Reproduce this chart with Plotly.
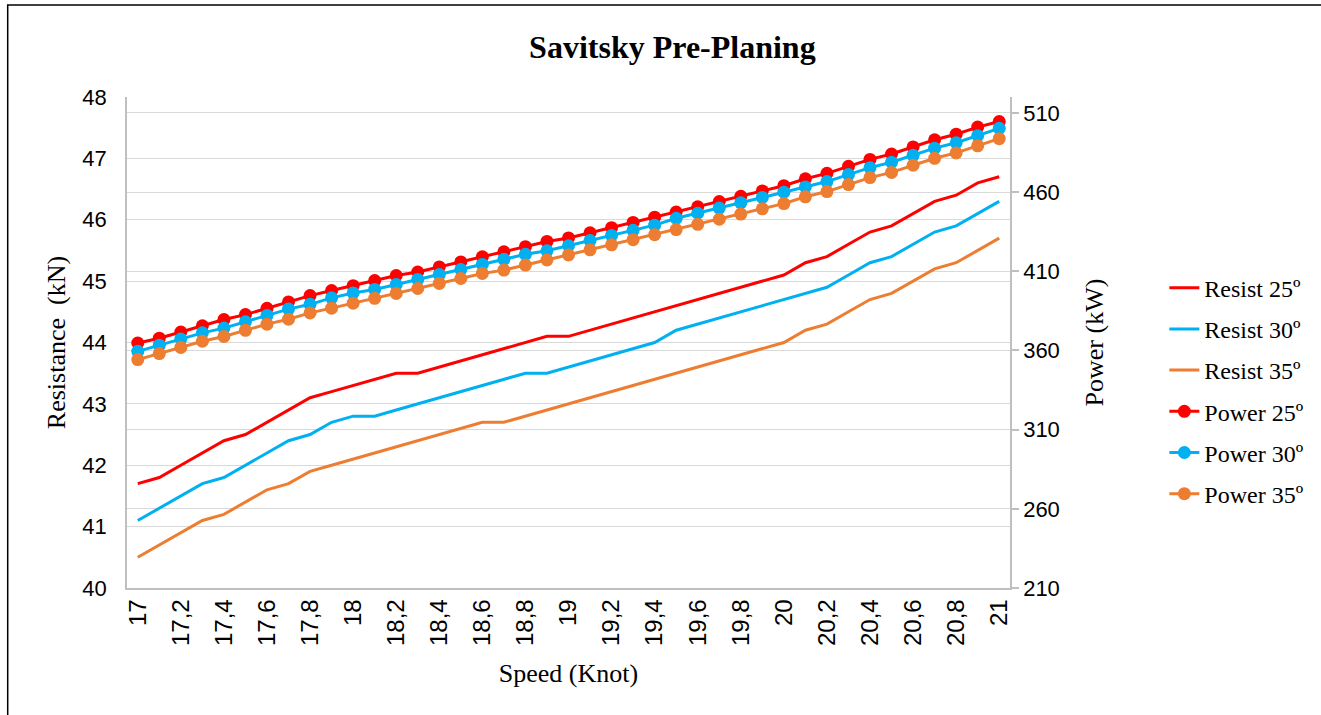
import plotly.graph_objects as go

# Speed (knots) and tick labels shown on the x axis (comma decimals)
speed = [17.0, 17.1, 17.2, 17.3, 17.4, 17.5, 17.6, 17.7, 17.8, 17.9,
         18.0, 18.1, 18.2, 18.3, 18.4, 18.5, 18.6, 18.7, 18.8, 18.9,
         19.0, 19.1, 19.2, 19.3, 19.4, 19.5, 19.6, 19.7, 19.8, 19.9,
         20.0, 20.1, 20.2, 20.3, 20.4, 20.5, 20.6, 20.7, 20.8, 20.9, 21.0]
tick_speeds = [17.0, 17.2, 17.4, 17.6, 17.8, 18.0, 18.2, 18.4, 18.6, 18.8, 19.0,
               19.2, 19.4, 19.6, 19.8, 20.0, 20.2, 20.4, 20.6, 20.8, 21.0]
tick_labels = ["17", "17,2", "17,4", "17,6", "17,8", "18", "18,2", "18,4", "18,6",
               "18,8", "19", "19,2", "19,4", "19,6", "19,8", "20", "20,2", "20,4",
               "20,6", "20,8", "21"]

# Resistance (kN)
resist_25 = [41.7, 41.8, 42.0, 42.2, 42.4, 42.5, 42.7, 42.9, 43.1, 43.2,
             43.3, 43.4, 43.5, 43.5, 43.6, 43.7, 43.8, 43.9, 44.0, 44.1,
             44.1, 44.2, 44.3, 44.4, 44.5, 44.6, 44.7, 44.8, 44.9, 45.0,
             45.1, 45.3, 45.4, 45.6, 45.8, 45.9, 46.1, 46.3, 46.4, 46.6, 46.7]
resist_30 = [41.1, 41.3, 41.5, 41.7, 41.8, 42.0, 42.2, 42.4, 42.5, 42.7,
             42.8, 42.8, 42.9, 43.0, 43.1, 43.2, 43.3, 43.4, 43.5, 43.5,
             43.6, 43.7, 43.8, 43.9, 44.0, 44.2, 44.3, 44.4, 44.5, 44.6,
             44.7, 44.8, 44.9, 45.1, 45.3, 45.4, 45.6, 45.8, 45.9, 46.1, 46.3]
resist_35 = [40.5, 40.7, 40.9, 41.1, 41.2, 41.4, 41.6, 41.7, 41.9, 42.0,
             42.1, 42.2, 42.3, 42.4, 42.5, 42.6, 42.7, 42.7, 42.8, 42.9,
             43.0, 43.1, 43.2, 43.3, 43.4, 43.5, 43.6, 43.7, 43.8, 43.9,
             44.0, 44.2, 44.3, 44.5, 44.7, 44.8, 45.0, 45.2, 45.3, 45.5, 45.7]

# Power (kW)
power_25 = [364.7, 367.7, 371.6, 375.5, 379.5, 382.6, 386.6, 390.6, 394.6, 397.8,
            400.9, 404.1, 407.3, 409.5, 412.7, 415.9, 419.1, 422.3, 425.5, 428.8,
            431.0, 434.3, 437.5, 440.8, 444.1, 447.4, 450.7, 454.0, 457.3, 460.7,
            464.0, 468.4, 471.8, 476.2, 480.6, 484.0, 488.5, 493.0, 496.5, 501.0, 504.5]
power_30 = [359.4, 363.3, 367.2, 371.1, 374.1, 378.1, 382.1, 386.1, 389.1, 393.2,
            396.3, 398.5, 401.6, 404.8, 407.9, 411.1, 414.3, 417.5, 420.7, 422.9,
            426.1, 429.4, 432.6, 435.8, 439.1, 443.4, 446.6, 449.9, 453.2, 456.6,
            459.9, 463.2, 466.6, 471.0, 475.4, 478.8, 483.2, 487.7, 491.1, 495.6, 500.2]
power_35 = [354.2, 358.0, 361.9, 365.8, 368.8, 372.7, 376.6, 379.7, 383.7, 386.7,
            389.8, 392.9, 396.0, 399.1, 402.3, 405.4, 408.6, 410.7, 413.9, 417.1,
            420.3, 423.5, 426.7, 429.9, 433.1, 436.3, 439.6, 442.8, 446.1, 449.4,
            452.7, 457.0, 460.3, 464.7, 469.1, 472.4, 476.9, 481.3, 484.7, 489.2, 493.7]

RED = "#FF0000"
BLUE = "#00B0F0"
ORANGE = "#ED7D31"
SERIF = "Liberation Serif"
SANS = "Liberation Sans"
GRID = "#D9D9D9"
AXIS = "#BFBFBF"

fig = go.Figure()

for name, ys, color in [("Resist 25º", resist_25, RED),
                        ("Resist 30º", resist_30, BLUE),
                        ("Resist 35º", resist_35, ORANGE)]:
    fig.add_trace(go.Scatter(x=speed, y=ys, name=name, mode="lines",
                             line=dict(color=color, width=3),
                             legendgroup=name, yaxis="y"))

for name, ys, color in [("Power 25º", power_25, RED),
                        ("Power 30º", power_30, BLUE),
                        ("Power 35º", power_35, ORANGE)]:
    fig.add_trace(go.Scatter(x=speed, y=ys, name=name, mode="lines+markers",
                             line=dict(color=color, width=3),
                             marker=dict(color=color, size=13),
                             legendgroup=name, yaxis="y2"))

fig.update_layout(
    width=1321, height=715,
    margin=dict(l=127, r=306, t=97, b=127),
    paper_bgcolor="white", plot_bgcolor="white",
    showlegend=True,
    title=dict(text="<b>Savitsky Pre-Planing</b>", x=0.509, xref="container",
               y=0.934, yref="container", xanchor="center", yanchor="middle",
               font=dict(family=SERIF, size=32, color="black")),
    xaxis=dict(range=[16.95, 21.05], tickmode="array", tickvals=tick_speeds,
               ticktext=tick_labels, tickangle=-90, showgrid=False,
               showline=True, linecolor=AXIS, linewidth=1.5, ticks="",
               tickfont=dict(family=SANS, size=24, color="black"),
               title=dict(text="Speed (Knot)", standoff=19,
                          font=dict(family=SERIF, size=26, color="black")),
               zeroline=False),
    yaxis=dict(range=[40, 48], dtick=1, tick0=40, showgrid=True, gridcolor=GRID,
               gridwidth=1, showline=True, linecolor=AXIS, linewidth=1.5,
               ticks="", ticklabelstandoff=14,
               tickfont=dict(family=SANS, size=22, color="black"),
               title=dict(text="Resistance\u00a0 (kN)", standoff=9,
                          font=dict(family=SERIF, size=26, color="black")),
               zeroline=False),
    yaxis2=dict(range=[210, 520], tickmode="array",
                tickvals=[210, 260, 310, 360, 410, 460, 510],
                overlaying="y", side="right", showgrid=True, gridcolor=GRID,
                gridwidth=1, showline=True, linecolor=AXIS, linewidth=1.5,
                ticks="outside", ticklen=7, tickcolor=AXIS, tickwidth=1.5,
                tickfont=dict(family=SANS, size=22, color="black"),
                title=dict(text="Power (kW)", standoff=26,
                           font=dict(family=SERIF, size=26, color="black")),
                zeroline=False),
    legend=dict(x=1.1748, xanchor="left", y=0.401, yanchor="middle",
                font=dict(family=SERIF, size=24, color="black"),
                tracegroupgap=7, bgcolor="rgba(0,0,0,0)", borderwidth=0),
    shapes=[dict(type="rect", xref="paper", yref="paper",
                 x0=-0.1351, x1=1.45, y0=-0.5, y1=1.1874,
                 line=dict(color="black", width=1.5), fillcolor="rgba(0,0,0,0)",
                 layer="above")],
)

fig.write_html("out.html")
